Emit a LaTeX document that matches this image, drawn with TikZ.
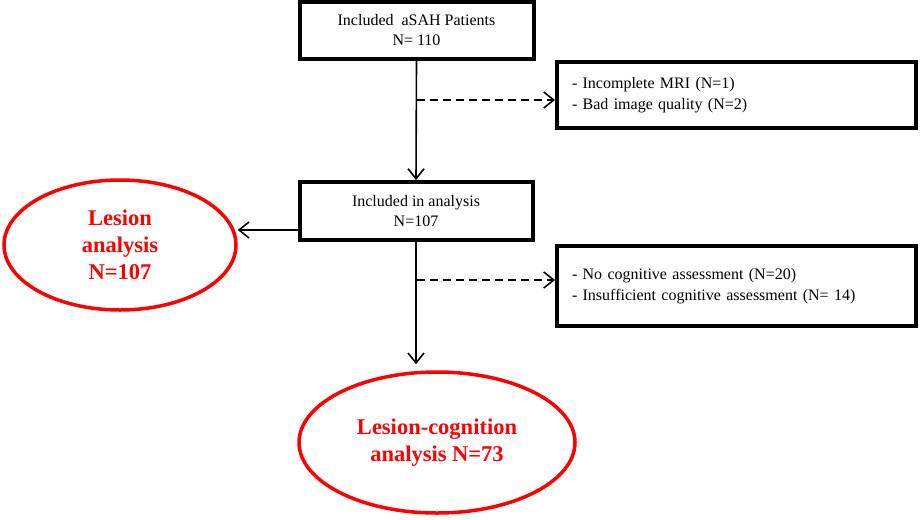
\documentclass[tikz,border=0pt]{standalone}
\usepackage{fontspec}
\setmainfont{Liberation Serif}
\usetikzlibrary{arrows.meta,shapes.geometric}
\begin{document}
\begin{tikzpicture}[x=1pt,y=-1pt,
  box/.style={draw=black,line width=4pt,rectangle,inner sep=0pt,align=center,
    font=\fontsize{16}{20}\selectfont},
  excl/.style={draw=black,line width=4pt,rectangle,inner ysep=0pt,inner xsep=15pt,
    align=left,font=\fontsize{16}{20.5}\selectfont},
  oval/.style={draw=red,line width=3.5pt,ellipse,inner sep=0pt,align=center,
    text=red,font=\fontsize{22.5}{27}\selectfont\bfseries},
  arr/.style={line width=1.6pt,-{Straight Barb[length=10pt,width=16pt,line width=1.6pt]}},
  dasharr/.style={arr,dash pattern=on 8pt off 5pt}]
\useasboundingbox (0,0) rectangle (920,519);
\node[box,minimum width=234pt,minimum height=57pt] (b1) at (416.5,30.5)
  {Included~ aSAH Patients\\N= 110};
\node[box,minimum width=233pt,minimum height=58pt] (b2) at (416,211)
  {Included in analysis\\N=107};
\node[excl,text width=329pt,minimum height=66pt] (b3) at (736.5,95)
  {- Incomplete MRI (N=1)\\- Bad image quality (N=2)};
\node[excl,text width=329pt,minimum height=80pt] (b4) at (736.5,286)
  {- No cognitive assessment (N=20)\\- Insufficient cognitive assessment (N= 14)};
\node[oval,minimum width=232pt,minimum height=130pt] (e1) at (120,245)
  {Lesion\\analysis\\N=107};
\node[oval,minimum width=276pt,minimum height=141pt] (e2) at (437,442.5)
  {Lesion-cognition\\analysis N=73};
\coordinate (d1) at (416.5,100);
\coordinate (d2) at (416.5,280);
\coordinate (a3) at (298,230);
\draw[arr] (b1.south) -- (b2.north);
\draw[dasharr] (d1) -- (d1 -| b3.west);
\draw[arr,shorten >=6pt] (b2.south) -- (b2.south |- e2.north);
\draw[dasharr] (d2) -- (d2 -| b4.west);
\draw[arr] (a3) -- (a3 -| e1.east);
\end{tikzpicture}
\end{document}
